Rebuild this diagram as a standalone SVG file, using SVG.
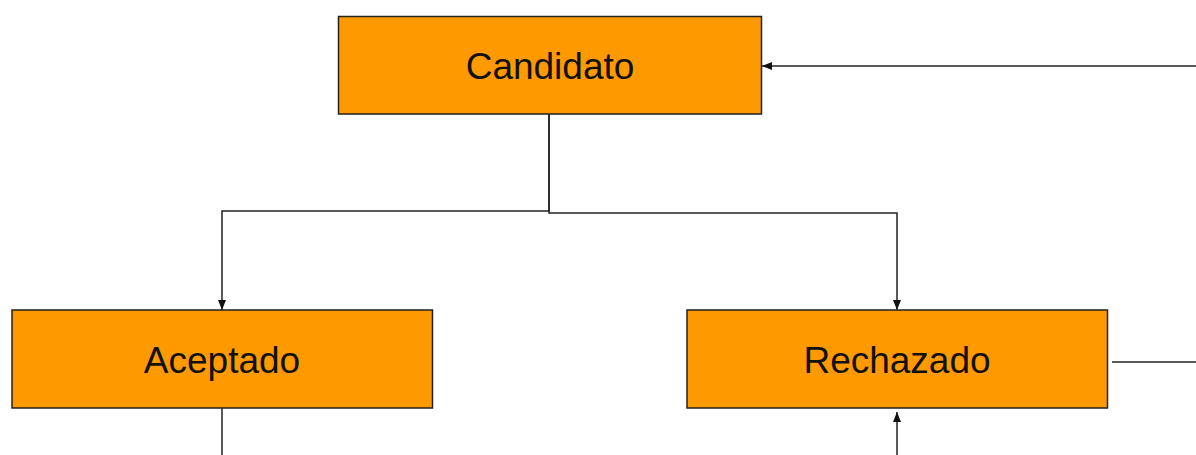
<svg xmlns="http://www.w3.org/2000/svg" width="1196" height="455" viewBox="0 0 1196 455">
<defs>
<style>
.box{fill:#ff9900;stroke:#222;stroke-width:1.5}
.lbl{font-family:"Liberation Sans",Arial,sans-serif;font-size:37px;fill:#111;text-anchor:middle}
.edge{fill:none;stroke:#222;stroke-width:1.5}
</style>
<marker id="arr" viewBox="0 0 10 8" refX="10" refY="4" markerWidth="10" markerHeight="8" markerUnits="userSpaceOnUse" orient="auto">
<path d="M0,0 L10,4 L0,8 z" fill="#111"/>
</marker>
</defs>
<rect width="1196" height="455" fill="#fff"/>
<g id="connectors">
<path class="edge" d="M549,114 V211 H222 V310" marker-end="url(#arr)"/>
<path class="edge" d="M549,114 V213 H897 V310" marker-end="url(#arr)"/>
<path class="edge" d="M1196,66 H762" marker-end="url(#arr)"/>
<path class="edge" d="M1112,362 H1196"/>
<path class="edge" d="M897,455 V412" marker-end="url(#arr)"/>
<path class="edge" d="M222,408 V455"/>
</g>
<g id="candidato">
<rect class="box" x="338.5" y="16.5" width="423" height="97.5"/>
<text class="lbl" x="550" y="79">Candidato</text>
</g>
<g id="aceptado">
<rect class="box" x="12" y="310" width="420.5" height="98"/>
<text class="lbl" x="222" y="373">Aceptado</text>
</g>
<g id="rechazado">
<rect class="box" x="687" y="310" width="420.5" height="98"/>
<text class="lbl" x="897" y="373">Rechazado</text>
</g>
</svg>
